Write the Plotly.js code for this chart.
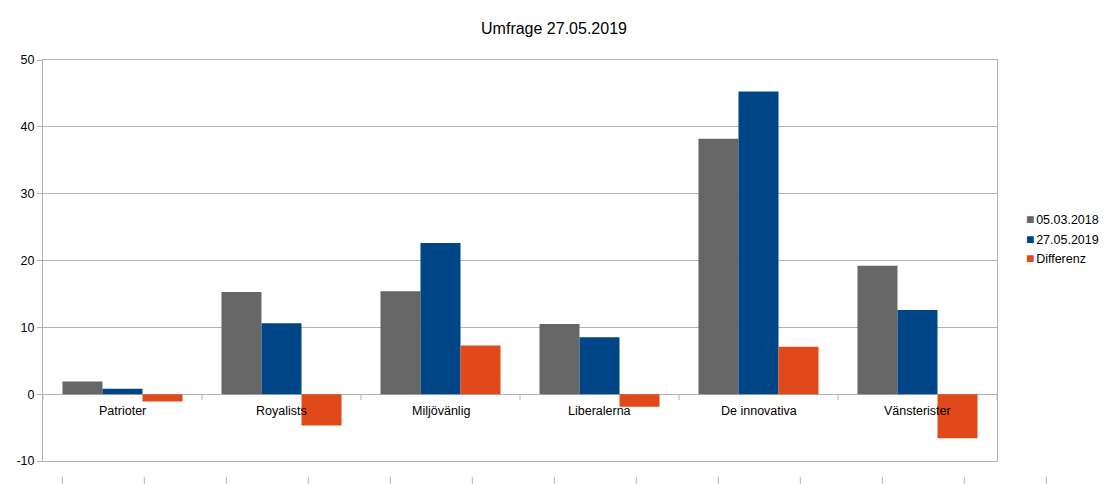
<!DOCTYPE html>
<html>
<head>
<meta charset="utf-8">
<script src="https://cdn.plot.ly/plotly-3.0.1.min.js"></script>
<style>
html,body{margin:0;padding:0;background:#fff;}
#chart{width:1108px;height:484px;}
</style>
</head>
<body>
<div id="chart"></div>
<script>
// ---- data ----
const categories = ["Patrioter", "Royalists", "Miljövänlig", "Liberalerna", "De innovativa", "Vänsterister"];
const seriesNames = ["05.03.2018", "27.05.2019", "Differenz"];
const values2018 = [1.9, 15.3, 15.4, 10.5, 38.2, 19.2];
const values2019 = [0.8, 10.6, 22.6, 8.5, 45.3, 12.6];
const valuesDiff = [-1.1, -4.7, 7.3, -1.9, 7.1, -6.6];
const yTicks = [-10, 0, 10, 20, 30, 40, 50];

// ---- style ----
const colors = ["#666666", "#004586", "#e04a1a"];
const gridColor = "#b3b3b3";
const font = "Liberation Sans, Arial, sans-serif";

const W = 1108, H = 484;
const margin = {l: 43, r: 111, t: 60, b: 23};
const plotW = W - margin.l - margin.r;
const plotH = H - margin.t - margin.b;

const allSeries = [values2018, values2019, valuesDiff];
const idx = categories.map((_, i) => i);

const traces = allSeries.map((vals, s) => ({
  type: "bar",
  x: idx,
  y: vals,
  name: seriesNames[s],
  marker: {color: colors[s], line: {width: 0}},
  showlegend: false,
  hoverinfo: "x+y"
}));

// category labels under the zero line
const annotations = categories.map((c, i) => ({
  x: i, y: 0, xref: "x", yref: "y",
  text: c, showarrow: false,
  yanchor: "top", yshift: -8,
  font: {family: font, size: 12.5, color: "#000"}
}));

// legend built from series names
const legendTop = 219;
seriesNames.forEach((n, s) => {
  const py = legendTop + s * 19.5;
  annotations.push({
    xref: "paper", yref: "paper",
    x: (1024 - margin.l) / plotW,
    y: (margin.t + plotH - py) / plotH,
    xanchor: "left", yanchor: "middle",
    showarrow: false,
    text: '<span style="color:' + colors[s] + ';font-size:14px">■</span><span style="font-size:6px"> </span>' + n,
    font: {family: font, size: 12.5, color: "#000"}
  });
});

// category boundary ticks on zero line
const shapes = [];
for (let b = 0; b <= categories.length; b++) {
  shapes.push({
    type: "line", xref: "x", yref: "y",
    x0: b - 0.5, x1: b - 0.5,
    ysizemode: "pixel", yanchor: 0,
    y0: 0, y1: -6,
    line: {color: gridColor, width: 1}
  });
}
// decorative ticks along the bottom edge
for (let k = 0; k < 13; k++) {
  const px = 62.3 + 82 * k;
  shapes.push({
    type: "line", xref: "paper", yref: "paper",
    x0: (px - margin.l) / plotW, x1: (px - margin.l) / plotW,
    y0: (margin.t + plotH - 477) / plotH, y1: (margin.t + plotH - 484) / plotH,
    line: {color: gridColor, width: 1}
  });
}

const layout = {
  width: W, height: H,
  margin: margin,
  paper_bgcolor: "#fff",
  plot_bgcolor: "#fff",
  font: {family: font, size: 12, color: "#000"},
  title: {
    text: "Umfrage 27.05.2019",
    font: {family: font, size: 16, color: "#000"},
    x: 0.5, xref: "container", xanchor: "center",
    y: 1 - 28 / H, yref: "container", yanchor: "middle"
  },
  barmode: "group",
  bargap: 0.245,
  bargroupgap: 0,
  showlegend: false,
  xaxis: {
    range: [-0.5, categories.length - 0.5],
    showticklabels: false,
    ticks: "",
    showgrid: false,
    zeroline: false,
    showline: true, mirror: true,
    linecolor: gridColor, linewidth: 1,
    fixedrange: true
  },
  yaxis: {
    range: [-10, 50],
    tickvals: yTicks,
    ticktext: yTicks.map(String),
    showgrid: true, gridcolor: gridColor, gridwidth: 1,
    zeroline: true, zerolinecolor: gridColor, zerolinewidth: 1,
    showline: true, mirror: true,
    linecolor: gridColor, linewidth: 1,
    ticks: "outside", ticklen: 5, tickcolor: gridColor,
    tickfont: {family: font, size: 12.5, color: "#000"},
    fixedrange: true
  },
  annotations: annotations,
  shapes: shapes
};

Plotly.newPlot("chart", traces, layout, {displayModeBar: false, staticPlot: true});
</script>
</body>
</html>
